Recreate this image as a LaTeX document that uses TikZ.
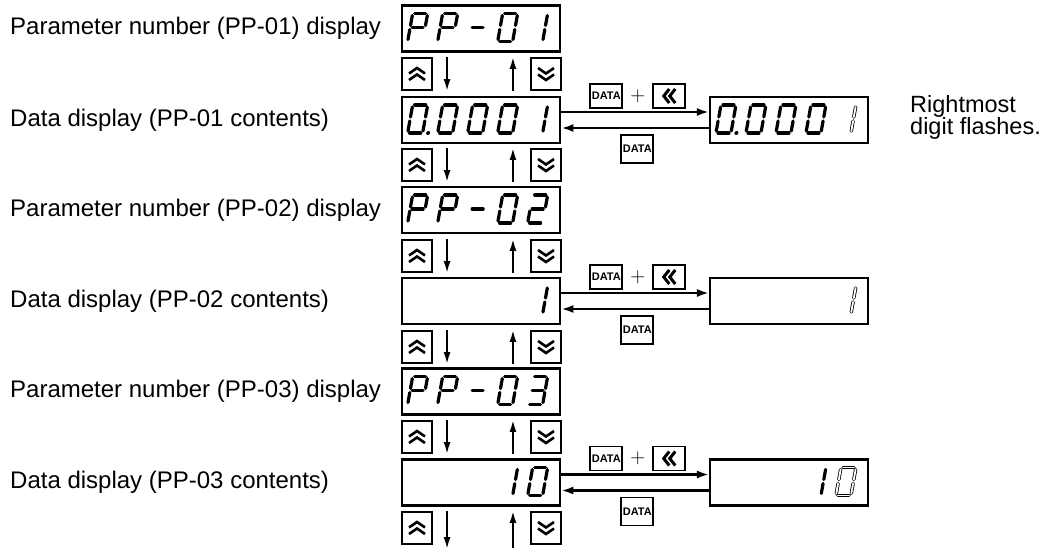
\documentclass[tikz,border=0pt]{standalone}
\usepackage{fontspec}
\setmainfont{Liberation Sans}
\usetikzlibrary{positioning,calc,arrows.meta}

% seven-segment pieces, y pointing down
\newcommand{\segA}[1]{\draw[#1] (-5.5,-14) -- (5.5,-14);}
\newcommand{\segB}[1]{\draw[#1] (7.5,-12) -- (7.5,-2);}
\newcommand{\segC}[1]{\draw[#1] (7.5,2) -- (7.5,12);}
\newcommand{\segD}[1]{\draw[#1] (-5.5,14) -- (5.5,14);}
\newcommand{\segE}[1]{\draw[#1] (-7.5,2) -- (-7.5,12);}
\newcommand{\segF}[1]{\draw[#1] (-7.5,-12) -- (-7.5,-2);}
\newcommand{\segG}[1]{\draw[#1] (-5.5,0) -- (5.5,0);}
\newcommand{\segP}[1]{\fill (13,14) circle (2);}
\def\chP{A,B,E,F,G}
\def\chDash{G}
\def\chZero{A,B,C,D,E,F}
\def\chOne{B,C}
\def\chTwo{A,B,D,E,G}
\def\chThree{A,B,C,D,G}
\def\chPoint{P}

% \lcdchar{display}{cell}{segments}{style}
\newcommand{\lcdchar}[4]{%
  \begin{scope}[shift={(#1.west)}, xshift={(17+30*#2)*1pt}, yshift=1pt, xslant=0.18]
    \foreach \s in #3 {\csname seg\s\endcsname{#4}}
  \end{scope}}

\begin{document}
\begin{tikzpicture}[x=1pt, y=-1pt,
    disp/.style={draw, line width=2.7pt, minimum width=158pt, minimum height=46pt, inner sep=0pt},
    rdisp/.style={disp, line width=2.1pt},
    padkey/.style={draw, line width=2.1pt, minimum width=30pt, minimum height=32pt, inner sep=0pt},
    chev/.style={line width=2.6pt},
    upkey/.style={padkey, path picture={
        \draw[chev] ([shift={(-8,-0.5)}]path picture bounding box.center) -- ++(8,-5.5) -- ++(8,5.5);
        \draw[chev] ([shift={(-8,6)}]path picture bounding box.center) -- ++(8,-5.5) -- ++(8,5.5);}},
    downkey/.style={padkey, path picture={
        \draw[chev] ([shift={(-8,-6)}]path picture bounding box.center) -- ++(8,5.5) -- ++(8,-5.5);
        \draw[chev] ([shift={(-8,0.5)}]path picture bounding box.center) -- ++(8,5.5) -- ++(8,-5.5);}},
    datakey/.style={draw, line width=1.9pt, minimum width=32pt, minimum height=24pt, inner sep=0.5pt,
        font=\fontsize{11}{11}\selectfont\bfseries},
    sftkey/.style={datakey, minimum width=32pt, path picture={
        \draw[chev, line width=3pt] ([shift={(0,-7)}]path picture bounding box.center) -- ++(-5.5,7) -- ++(5.5,7);
        \draw[chev, line width=3pt] ([shift={(6,-7)}]path picture bounding box.center) -- ++(-5.5,7) -- ++(5.5,7);}},
    segon/.style={line width=3.2pt, line cap=round},
    segoff/.style={line width=0.8pt, double=white, double distance=1.8pt, line cap=round},
    rowtext/.style={anchor=west, inner sep=0pt, font=\fontsize{24}{26}\selectfont},
    updown/.style={line width=1.9pt, -{Latex[length=12pt,width=7pt]}},
    hflow/.style={line width=2.3pt, -{Latex[length=12pt,width=8pt]}}]
  \useasboundingbox (0,0) rectangle (1045,548);

  % PP-01 number
  \node[disp] (d1) at (481,28.5) {};
  \node[rowtext] (t1) at (10,28.5) {Parameter number (PP-01) display};
  \lcdchar{d1}{0}{\chP}{segon}
  \lcdchar{d1}{1}{\chP}{segon}
  \lcdchar{d1}{2}{\chDash}{segon}
  \lcdchar{d1}{3}{\chZero}{segon}
  \lcdchar{d1}{4}{\chOne}{segon}
  \node[upkey] (u1) at (417,74) {};
  \node[downkey] (n1) at (546,74) {};
  \draw[updown] ([xshift=14pt]u1.north east) -- ([xshift=14pt]u1.south east);
  \draw[updown] ([xshift=-17pt]n1.south west) -- ([xshift=-17pt]n1.north west);

  % PP-01 contents
  \node[disp] (d2) at (481,120) {};
  \node[rowtext] (t2) at (10,120) {Data display (PP-01 contents)};
  \lcdchar{d2}{0}{\chZero}{segon}
  \lcdchar{d2}{0}{\chPoint}{segon}
  \lcdchar{d2}{1}{\chZero}{segon}
  \lcdchar{d2}{2}{\chZero}{segon}
  \lcdchar{d2}{3}{\chZero}{segon}
  \lcdchar{d2}{4}{\chOne}{segon}
  \node[upkey] (u2) at (417,165) {};
  \node[downkey] (n2) at (546,165) {};
  \draw[updown] ([xshift=14pt]u2.north east) -- ([xshift=14pt]u2.south east);
  \draw[updown] ([xshift=-17pt]n2.south west) -- ([xshift=-17pt]n2.north west);

  \node[rdisp] (r1) at (789,120) {};
  \lcdchar{r1}{0}{\chZero}{segon}
  \lcdchar{r1}{0}{\chPoint}{segon}
  \lcdchar{r1}{1}{\chZero}{segon}
  \lcdchar{r1}{2}{\chZero}{segon}
  \lcdchar{r1}{3}{\chZero}{segon}
  \lcdchar{r1}{4}{\chOne}{segoff}
  \draw[hflow] ([yshift=8pt]d2.east) -- ([yshift=8pt]r1.west);
  \draw[hflow] ([yshift=-8pt]r1.west) -- ([yshift=-8pt]d2.east);
  \node[datakey] (a1) at ([xshift=45pt,yshift=24pt]d2.east) {DATA};
  \node[sftkey, right=29pt of a1] (s1) {};
  \node (p1) at ($(a1.east)!0.5!(s1.west)$) {\fontsize{22}{22}\selectfont$+$};
  \node[datakey, minimum height=28pt] (b1) at ([xshift=76pt,yshift=-29pt]d2.east) {DATA};
  \node[rowtext, font=\fontsize{23.5}{22}\selectfont, align=left] (note) at (910,117) {Rightmost\\digit flashes.};

  % PP-02 number
  \node[disp] (d3) at (481,210) {};
  \node[rowtext] (t3) at (10,210) {Parameter number (PP-02) display};
  \lcdchar{d3}{0}{\chP}{segon}
  \lcdchar{d3}{1}{\chP}{segon}
  \lcdchar{d3}{2}{\chDash}{segon}
  \lcdchar{d3}{3}{\chZero}{segon}
  \lcdchar{d3}{4}{\chTwo}{segon}
  \node[upkey] (u3) at (417,256) {};
  \node[downkey] (n3) at (546,256) {};
  \draw[updown] ([xshift=14pt]u3.north east) -- ([xshift=14pt]u3.south east);
  \draw[updown] ([xshift=-17pt]n3.south west) -- ([xshift=-17pt]n3.north west);

  % PP-02 contents
  \node[disp] (d4) at (481,301) {};
  \node[rowtext] (t4) at (10,301) {Data display (PP-02 contents)};
  \lcdchar{d4}{4}{\chOne}{segon}
  \node[upkey] (u4) at (417,347) {};
  \node[downkey] (n4) at (546,347) {};
  \draw[updown] ([xshift=14pt]u4.north east) -- ([xshift=14pt]u4.south east);
  \draw[updown] ([xshift=-17pt]n4.south west) -- ([xshift=-17pt]n4.north west);

  \node[rdisp] (r2) at (789,301) {};
  \lcdchar{r2}{4}{\chOne}{segoff}
  \draw[hflow] ([yshift=8pt]d4.east) -- ([yshift=8pt]r2.west);
  \draw[hflow] ([yshift=-8pt]r2.west) -- ([yshift=-8pt]d4.east);
  \node[datakey] (a2) at ([xshift=45pt,yshift=24pt]d4.east) {DATA};
  \node[sftkey, right=29pt of a2] (s2) {};
  \node (p2) at ($(a2.east)!0.5!(s2.west)$) {\fontsize{22}{22}\selectfont$+$};
  \node[datakey, minimum height=28pt] (b2) at ([xshift=76pt,yshift=-29pt]d4.east) {DATA};

  % PP-03 number
  \node[disp] (d5) at (481,391.5) {};
  \node[rowtext] (t5) at (10,391.5) {Parameter number (PP-03) display};
  \lcdchar{d5}{0}{\chP}{segon}
  \lcdchar{d5}{1}{\chP}{segon}
  \lcdchar{d5}{2}{\chDash}{segon}
  \lcdchar{d5}{3}{\chZero}{segon}
  \lcdchar{d5}{4}{\chThree}{segon}
  \node[upkey] (u5) at (417,437) {};
  \node[downkey] (n5) at (546,437) {};
  \draw[updown] ([xshift=14pt]u5.north east) -- ([xshift=14pt]u5.south east);
  \draw[updown] ([xshift=-17pt]n5.south west) -- ([xshift=-17pt]n5.north west);

  % PP-03 contents
  \node[disp] (d6) at (481,482.5) {};
  \node[rowtext] (t6) at (10,482.5) {Data display (PP-03 contents)};
  \lcdchar{d6}{3}{\chOne}{segon}
  \lcdchar{d6}{4}{\chZero}{segon}
  \node[upkey] (u6) at (417,528) {};
  \node[downkey] (n6) at (546,528) {};
  \draw[updown] ([xshift=14pt]u6.north east) -- ([xshift=14pt,yshift=-4pt]u6.south east);
  \draw[updown] ([xshift=-17pt,yshift=-4pt]n6.south west) -- ([xshift=-17pt]n6.north west);

  \node[rdisp] (r3) at (789,482.5) {};
  \lcdchar{r3}{3}{\chOne}{segon}
  \lcdchar{r3}{4}{\chZero}{segoff}
  \draw[hflow] ([yshift=8pt]d6.east) -- ([yshift=8pt]r3.west);
  \draw[hflow] ([yshift=-8pt]r3.west) -- ([yshift=-8pt]d6.east);
  \node[datakey] (a3) at ([xshift=45pt,yshift=24pt]d6.east) {DATA};
  \node[sftkey, right=29pt of a3] (s3) {};
  \node (p3) at ($(a3.east)!0.5!(s3.west)$) {\fontsize{22}{22}\selectfont$+$};
  \node[datakey, minimum height=28pt] (b3) at ([xshift=76pt,yshift=-29pt]d6.east) {DATA};
\end{tikzpicture}
\end{document}
